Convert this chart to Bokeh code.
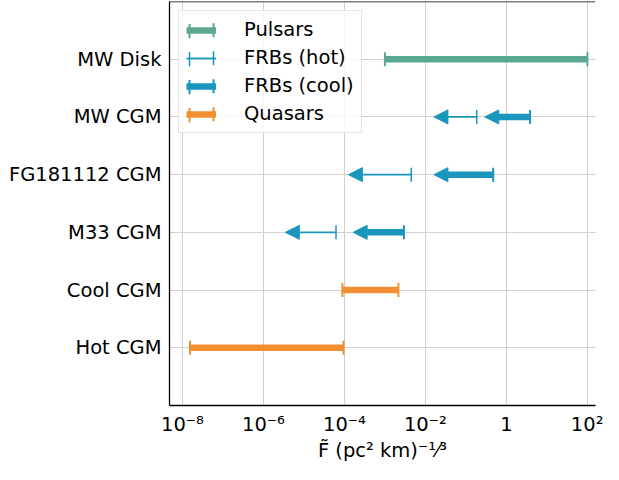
import numpy as np
from bokeh.plotting import figure
from bokeh.models import (ColumnDataSource, Range1d, FixedTicker, Arrow, NormalHead,
                          Legend, LegendItem, Span)
from bokeh.embed import file_html
from bokeh.resources import INLINE

# ---------------- data ----------------
categories = ["Hot CGM", "Cool CGM", "M33 CGM", "FG181112 CGM", "MW CGM", "MW Disk"]

pulsar_cat = ["MW Disk"]
pulsar_lo = [1.0e-3]
pulsar_hi = [1.0e2]

frb_cat = ["MW CGM", "FG181112 CGM", "M33 CGM"]
frb_hot_hi = [0.185, 4.47e-3, 6.2e-5]     # upper limits (cap)
frb_hot_lo = [0.0162, 1.25e-4, 3.47e-6]   # arrow tips
frb_cool_hi = [3.84, 0.472, 2.95e-3]
frb_cool_lo = [0.292, 0.0162, 1.64e-4]

quasar_cat = ["Cool CGM", "Hot CGM"]
quasar_lo = [8.9e-5, 1.53e-8]
quasar_hi = [2.15e-3, 9.46e-5]

xtick_vals = [1e-8, 1e-6, 1e-4, 1e-2, 1.0, 1e2]
xtick_labels = ["10⁻⁸", "10⁻⁶", "10⁻⁴", "10⁻²", "1", "10²"]

# ---------------- style ----------------
C_PULSAR = "#5ba892"
C_FRB = "#1a96bd"
C_QSO = "#f28f32"
FONT = "DejaVu Sans"
FS = "19.5px"

ypos = {c: i for i, c in enumerate(categories)}

p = figure(width=603, height=464, x_axis_type="log",
           x_range=Range1d(10 ** -8.32, 10 ** 2.2),
           y_range=Range1d(-1, len(categories)),
           output_backend="svg", toolbar_location=None,
           min_border_left=169, min_border_right=8, min_border_top=1,
           min_border_bottom=0)
p.outline_line_color = None
p.background_fill_color = "white"

# axes
p.xaxis.ticker = FixedTicker(ticks=xtick_vals)
p.xaxis.major_label_overrides = dict(zip(xtick_vals, xtick_labels))
p.yaxis.ticker = FixedTicker(ticks=list(range(len(categories))))
p.yaxis.major_label_overrides = {i: c for i, c in enumerate(categories)}
for ax in (p.xaxis, p.yaxis):
    ax.major_label_text_font = FONT
    ax.major_label_text_font_size = FS
    ax.major_label_text_color = "black"
    ax.axis_line_color = "black"
    ax.axis_line_width = 1.3
    ax.major_tick_line_color = None
    ax.minor_tick_line_color = None
p.xaxis.major_label_standoff = 1
p.yaxis.major_label_standoff = 2
p.xaxis.axis_label = "F\u0303 (pc² km)⁻¹⁄³"
p.xaxis.axis_label_text_font = FONT
p.xaxis.axis_label_text_font_size = FS
p.xaxis.axis_label_text_font_style = "normal"
p.xaxis.axis_label_text_color = "black"
p.xaxis.axis_label_standoff = 0

p.grid.grid_line_color = "#d0d0d0"
p.grid.grid_line_width = 1

# top spine
p.add_layout(Span(location=len(categories), dimension="width",
                  line_color="black", line_width=1.3))

CAP = 14
LEG_DASH = "0 24 14 24 14 0"  # draws only the vertical sides of the legend rect


def legend_cap(color, width, xv, yv):
    """degenerate quad whose only visible part is in the legend (end caps)"""
    return p.quad(left=[xv], right=[xv], top=[yv], bottom=[yv],
                  fill_color=None, line_color=color, line_width=width,
                  line_dash=LEG_DASH, line_cap="butt")


# pulsars
ps = ColumnDataSource(dict(y=[ypos[c] for c in pulsar_cat], lo=pulsar_lo, hi=pulsar_hi))
r_p = p.segment(x0="lo", x1="hi", y0="y", y1="y", source=ps,
                line_color=C_PULSAR, line_width=6.5)
p.scatter(x="lo", y="y", source=ps, marker="dash", angle=np.pi / 2, size=CAP,
          line_color=C_PULSAR, line_width=2)
p.scatter(x="hi", y="y", source=ps, marker="dash", angle=np.pi / 2, size=CAP,
          line_color=C_PULSAR, line_width=2)
r_pc = legend_cap(C_PULSAR, 2, pulsar_lo[0], ypos[pulsar_cat[0]])

# quasars
qs = ColumnDataSource(dict(y=[ypos[c] for c in quasar_cat], lo=quasar_lo, hi=quasar_hi))
r_q = p.segment(x0="lo", x1="hi", y0="y", y1="y", source=qs,
                line_color=C_QSO, line_width=6.5)
p.scatter(x="lo", y="y", source=qs, marker="dash", angle=np.pi / 2, size=CAP,
          line_color=C_QSO, line_width=2)
p.scatter(x="hi", y="y", source=qs, marker="dash", angle=np.pi / 2, size=CAP,
          line_color=C_QSO, line_width=2)
r_qc = legend_cap(C_QSO, 2, quasar_lo[0], ypos[quasar_cat[0]])

# FRBs (upper limits with arrows)
fy = [ypos[c] for c in frb_cat]
hot = ColumnDataSource(dict(y=fy, lo=frb_hot_lo, hi=frb_hot_hi))
cool = ColumnDataSource(dict(y=fy, lo=frb_cool_lo, hi=frb_cool_hi))

p.add_layout(Arrow(x_start="hi", y_start="y", x_end="lo", y_end="y", source=hot,
                   line_color=C_FRB, line_width=1.8,
                   end=NormalHead(size=14, fill_color=C_FRB, line_color=C_FRB, line_width=1)))
p.add_layout(Arrow(x_start="hi", y_start="y", x_end="lo", y_end="y", source=cool,
                   line_color=C_FRB, line_width=6.5,
                   end=NormalHead(size=14, fill_color=C_FRB, line_color=C_FRB, line_width=1)))
p.scatter(x="hi", y="y", source=hot, marker="dash", angle=np.pi / 2, size=CAP,
          line_color=C_FRB, line_width=1.5)
p.scatter(x="hi", y="y", source=cool, marker="dash", angle=np.pi / 2, size=CAP,
          line_color=C_FRB, line_width=2)

# legend-only renderers for the FRB lines (zero length -> invisible in plot)
r_h = p.segment(x0=[frb_hot_hi[0]], x1=[frb_hot_hi[0]], y0=[fy[0]], y1=[fy[0]],
                line_color=C_FRB, line_width=1.8, line_cap="butt")
r_hc = legend_cap(C_FRB, 1.5, frb_hot_hi[0], fy[0])
r_c = p.segment(x0=[frb_cool_hi[0]], x1=[frb_cool_hi[0]], y0=[fy[0]], y1=[fy[0]],
                line_color=C_FRB, line_width=6.5, line_cap="butt")
r_cc = legend_cap(C_FRB, 2, frb_cool_hi[0], fy[0])

legend = Legend(items=[
    LegendItem(label="Pulsars", renderers=[r_p, r_pc]),
    LegendItem(label="FRBs (hot)", renderers=[r_h, r_hc]),
    LegendItem(label="FRBs (cool)", renderers=[r_c, r_cc]),
    LegendItem(label="Quasars", renderers=[r_q, r_qc]),
], location="top_left")
legend.margin = 9
legend.padding = 7
legend.spacing = 5
legend.glyph_width = 30
legend.glyph_height = 18
legend.label_standoff = 28
legend.label_text_font = FONT
legend.label_text_font_size = FS
legend.label_text_color = "black"
legend.border_line_color = "#cccccc"
legend.border_line_width = 1
legend.background_fill_color = "white"
legend.background_fill_alpha = 0.8
p.add_layout(legend)

open("out.html", "w").write(file_html(p, INLINE))
